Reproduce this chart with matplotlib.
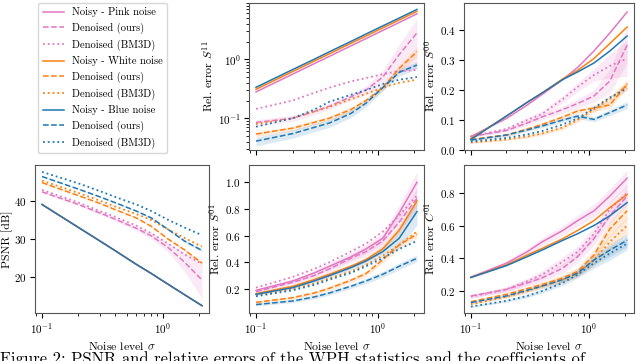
import matplotlib
matplotlib.use('Agg')
import matplotlib.pyplot as plt
import numpy as np

plt.rcParams['font.family'] = ['cmr10', 'DejaVu Serif']
plt.rcParams['mathtext.fontset'] = 'cm'
plt.rcParams['axes.formatter.use_mathtext'] = True
plt.rcParams['axes.unicode_minus'] = False

sigma = [0.1, 0.2, 0.3, 0.4, 0.6, 0.8, 1.1, 1.5, 2.1]

# S^11 relative error (log scale)
s11_pink = [[0.28, 0.56, 0.84, 1.12, 1.68, 2.24, 3.08, 4.2, 5.9],
            [0.085, 0.1, 0.13, 0.16, 0.23, 0.3, 0.5, 1.2, 2.8],
            [0.144, 0.2, 0.27, 0.33, 0.42, 0.48, 0.56, 0.63, 0.66]]
s11_orange = [[0.31, 0.62, 0.93, 1.24, 1.86, 2.48, 3.41, 4.65, 6.5],
              [0.054, 0.068, 0.085, 0.1, 0.14, 0.2, 0.33, 0.7, 1.35],
              [0.08, 0.1, 0.13, 0.155, 0.21, 0.26, 0.33, 0.4, 0.45]]
s11_blue = [[0.335, 0.67, 1.0, 1.34, 2.0, 2.68, 3.68, 5.0, 7.0],
            [0.041, 0.055, 0.07, 0.083, 0.12, 0.18, 0.33, 0.6, 0.8],
            [0.072, 0.1, 0.14, 0.19, 0.25, 0.3, 0.38, 0.45, 0.5]]
s11_std_pink = [0.01, 0.012, 0.015, 0.02, 0.03, 0.05, 0.15, 0.6, 2.1]
s11_std_orange = [0.005, 0.006, 0.008, 0.01, 0.015, 0.02, 0.04, 0.1, 0.25]
s11_std_blue = [0.007, 0.009, 0.011, 0.013, 0.018, 0.025, 0.04, 0.08, 0.12]

# S^00 relative error
s00_pink = [[0.045, 0.105, 0.15, 0.185, 0.235, 0.275, 0.33, 0.39, 0.46],
            [0.045, 0.065, 0.09, 0.11, 0.135, 0.155, 0.18, 0.23, 0.35],
            [0.045, 0.07, 0.1, 0.12, 0.17, 0.21, 0.25, 0.28, 0.305]]
s00_orange = [[0.038, 0.113, 0.159, 0.19, 0.237, 0.265, 0.305, 0.355, 0.41],
              [0.035, 0.05, 0.07, 0.085, 0.11, 0.13, 0.14, 0.15, 0.22],
              [0.025, 0.035, 0.045, 0.055, 0.075, 0.1, 0.135, 0.17, 0.215]]
s00_blue = [[0.035, 0.113, 0.159, 0.19, 0.235, 0.26, 0.29, 0.33, 0.38],
            [0.033, 0.05, 0.067, 0.08, 0.1, 0.113, 0.102, 0.125, 0.15],
            [0.028, 0.04, 0.052, 0.063, 0.085, 0.105, 0.14, 0.175, 0.205]]
s00_std_pink = [0.003, 0.005, 0.008, 0.01, 0.012, 0.015, 0.02, 0.04, 0.06]
s00_std_orange = [0.003, 0.004, 0.005, 0.006, 0.007, 0.008, 0.01, 0.012, 0.015]
s00_std_blue = [0.003, 0.004, 0.005, 0.006, 0.007, 0.008, 0.008, 0.01, 0.012]

# PSNR [dB]
psnr_pink = [[39, 33, 29.5, 27, 23.4, 21, 18.2, 15.5, 12.6],
             [42.3, 39, 36.8, 35.2, 32.8, 30.8, 27.8, 24, 19.3],
             [42.8, 39.5, 37.3, 35.8, 33.5, 31.5, 28.8, 26, 23.5]]
psnr_orange = [[39, 33, 29.5, 27, 23.4, 21, 18.2, 15.5, 12.6],
               [44.7, 41.3, 39.3, 37.7, 35.5, 33.3, 30, 27.2, 23.7],
               [45.2, 42, 40, 38.5, 36.5, 35, 32.5, 30.3, 28]]
psnr_blue = [[39, 33, 29.5, 27, 23.4, 21, 18.2, 15.5, 12.6],
             [46.3, 43, 41, 39.5, 37.3, 35.5, 32.5, 29.5, 27],
             [47.5, 44.5, 42.5, 41, 39, 37.3, 35, 33, 31]]
psnr_std_pink = [0.3, 0.3, 0.4, 0.5, 0.6, 0.8, 1.2, 2.5, 4.8]
psnr_std_orange = [0.1, 0.1, 0.1, 0.15, 0.15, 0.2, 0.2, 0.3, 0.4]
psnr_std_blue = [0.1, 0.1, 0.1, 0.15, 0.15, 0.2, 0.2, 0.3, 0.4]

# S^01 relative error
s01_pink = [[0.19, 0.26, 0.32, 0.37, 0.44, 0.5, 0.58, 0.77, 1.0],
            [0.18, 0.25, 0.3, 0.35, 0.43, 0.48, 0.56, 0.7, 0.88],
            [0.21, 0.29, 0.35, 0.4, 0.48, 0.54, 0.63, 0.75, 0.9]]
s01_orange = [[0.165, 0.22, 0.27, 0.31, 0.37, 0.42, 0.5, 0.64, 0.86],
              [0.1, 0.135, 0.17, 0.205, 0.265, 0.315, 0.42, 0.53, 0.61],
              [0.155, 0.2, 0.24, 0.28, 0.33, 0.38, 0.45, 0.53, 0.63]]
s01_blue = [[0.16, 0.21, 0.26, 0.3, 0.36, 0.41, 0.48, 0.58, 0.78],
            [0.083, 0.11, 0.14, 0.17, 0.22, 0.26, 0.31, 0.37, 0.43],
            [0.145, 0.19, 0.23, 0.27, 0.32, 0.37, 0.43, 0.5, 0.56]]
s01_std_pink = [0.01, 0.015, 0.02, 0.025, 0.03, 0.035, 0.04, 0.06, 0.08]
s01_std_orange = [0.01, 0.012, 0.014, 0.016, 0.018, 0.02, 0.025, 0.03, 0.03]
s01_std_blue = [0.01, 0.012, 0.014, 0.016, 0.018, 0.02, 0.022, 0.025, 0.025]
s01_std_blue_noisy = [0.01, 0.012, 0.014, 0.016, 0.02, 0.025, 0.04, 0.07, 0.1]

# C^01 relative error
c01_pink = [[0.285, 0.37, 0.44, 0.5, 0.57, 0.63, 0.69, 0.78, 0.89],
            [0.17, 0.21, 0.25, 0.28, 0.34, 0.41, 0.52, 0.66, 0.78],
            [0.165, 0.21, 0.26, 0.3, 0.38, 0.44, 0.55, 0.7, 0.8]]
c01_orange = [[0.283, 0.36, 0.42, 0.46, 0.52, 0.57, 0.63, 0.71, 0.79],
              [0.135, 0.18, 0.215, 0.24, 0.28, 0.32, 0.42, 0.58, 0.69],
              [0.12, 0.165, 0.2, 0.23, 0.27, 0.31, 0.39, 0.5, 0.6]]
c01_blue = [[0.283, 0.355, 0.41, 0.45, 0.51, 0.55, 0.6, 0.66, 0.74],
            [0.13, 0.17, 0.205, 0.23, 0.27, 0.31, 0.39, 0.45, 0.51],
            [0.105, 0.14, 0.17, 0.2, 0.25, 0.3, 0.37, 0.43, 0.49]]
c01_std_pink = [0.01, 0.015, 0.02, 0.025, 0.03, 0.035, 0.04, 0.045, 0.05]
c01_std_orange = [0.005, 0.01, 0.012, 0.015, 0.02, 0.025, 0.035, 0.045, 0.05]
c01_std_blue = [0.005, 0.008, 0.01, 0.012, 0.015, 0.02, 0.03, 0.04, 0.04]

colors = {'pink': 'tab:pink', 'orange': 'tab:orange', 'blue': 'tab:blue'}
noise_names = {'pink': 'Pink', 'orange': 'White', 'blue': 'Blue'}
styles = ['-', '--', ':']

fig = plt.figure(figsize=(6.4, 3.61), dpi=100)
x0 = [0.0547, 0.389, 0.725]
x1 = [0.3266, 0.6625, 0.9906]
ax_s11 = fig.add_axes([x0[1], 0.5845, x1[1] - x0[1], 0.9917 - 0.5845])
ax_s00 = fig.add_axes([x0[2], 0.5845, x1[2] - x0[2], 0.9917 - 0.5845])
ax_psnr = fig.add_axes([x0[0], 0.133, x1[0] - x0[0], 0.543 - 0.133])
ax_s01 = fig.add_axes([x0[1], 0.133, x1[1] - x0[1], 0.543 - 0.133])
ax_c01 = fig.add_axes([x0[2], 0.133, x1[2] - x0[2], 0.543 - 0.133])

panels = [
    (ax_s11, {'pink': s11_pink, 'orange': s11_orange, 'blue': s11_blue},
     {('pink', 1): s11_std_pink, ('orange', 1): s11_std_orange, ('blue', 1): s11_std_blue}),
    (ax_s00, {'pink': s00_pink, 'orange': s00_orange, 'blue': s00_blue},
     {('pink', 1): s00_std_pink, ('pink', 2): s00_std_pink, ('orange', 1): s00_std_orange,
      ('orange', 2): s00_std_orange, ('blue', 1): s00_std_blue}),
    (ax_psnr, {'pink': psnr_pink, 'orange': psnr_orange, 'blue': psnr_blue},
     {('pink', 1): psnr_std_pink, ('orange', 1): psnr_std_orange, ('blue', 1): psnr_std_blue}),
    (ax_s01, {'pink': s01_pink, 'orange': s01_orange, 'blue': s01_blue},
     {('pink', 0): s01_std_pink, ('pink', 1): s01_std_pink, ('orange', 1): s01_std_orange,
      ('orange', 0): s01_std_orange, ('blue', 1): s01_std_blue, ('blue', 0): s01_std_blue_noisy}),
    (ax_c01, {'pink': c01_pink, 'orange': c01_orange, 'blue': c01_blue},
     {('pink', 0): c01_std_pink, ('pink', 1): c01_std_pink, ('pink', 2): c01_std_pink,
      ('orange', 1): c01_std_orange, ('orange', 2): c01_std_orange,
      ('blue', 1): c01_std_blue, ('blue', 2): c01_std_blue}),
]

s = np.array(sigma)
for ax, series, bands in panels:
    for key in ['pink', 'orange', 'blue']:
        for i, ys in enumerate(series[key]):
            ys = np.array(ys)
            lab = f'Noisy - {noise_names[key]} noise' if i == 0 else ('Denoised (ours)' if i == 1 else 'Denoised (BM3D)')
            ax.plot(s, ys, styles[i], color=colors[key], lw=1.1 if i < 2 else 1.3, label=lab)
            if (key, i) in bands:
                sd = np.array(bands[(key, i)])
                ax.fill_between(s, ys - sd, ys + sd, color=colors[key], alpha=0.15, lw=0)
    ax.set_xscale('log')
    ax.set_xlim(0.0875, 2.4)
    ax.tick_params(labelsize=8, pad=2.5)
    for sp in ax.spines.values():
        sp.set_color('#555555')

ax_s11.set_yscale('log')
ax_s11.set_ylim(0.029, 9)
ax_s00.set_ylim(0, 0.49)
ax_psnr.set_ylim(10.7, 49.3)
ax_psnr.set_yticks([20, 30, 40])
ax_s01.set_ylim(0.02, 1.13)
ax_s01.set_yticks([0.2, 0.4, 0.6, 0.8, 1.0])
ax_c01.set_ylim(0.066, 0.97)
ax_c01.set_yticks([0.2, 0.4, 0.6, 0.8])

for ax in (ax_s11, ax_s00):
    ax.tick_params(labelbottom=False, which='both')
for ax in (ax_psnr, ax_s01, ax_c01):
    ax.set_xlabel(r'Noise level $\sigma$', fontsize=8.5, labelpad=3)

ax_s11.set_ylabel(r'Rel. error $S^{11}$', fontsize=8.5, labelpad=2)
ax_s00.set_ylabel(r'Rel. error $S^{00}$', fontsize=8.5, labelpad=2)
ax_psnr.set_ylabel('PSNR [dB]', fontsize=8.5)
ax_psnr.yaxis.set_label_coords(-0.128, 0.5)
ax_s01.set_ylabel(r'Rel. error $S^{01}$', fontsize=8.5, labelpad=2)
ax_c01.set_ylabel(r'Rel. error $C^{01}$', fontsize=8.5, labelpad=2)

handles, labels = ax_s11.get_legend_handles_labels()
fig.legend(handles, labels, loc='upper left', bbox_to_anchor=(0.055, 1.0), fontsize=7.6,
           labelspacing=0.52, borderaxespad=0.3)

# caption of the source figure, cut at the bottom edge as in the original
fig.text(0.0, 0.026, 'Figure 2: PSNR and relative errors of the WPH statistics and the coefficients of',
         fontsize=12, va='top', ha='left')

fig.savefig('out.png', dpi=100)
